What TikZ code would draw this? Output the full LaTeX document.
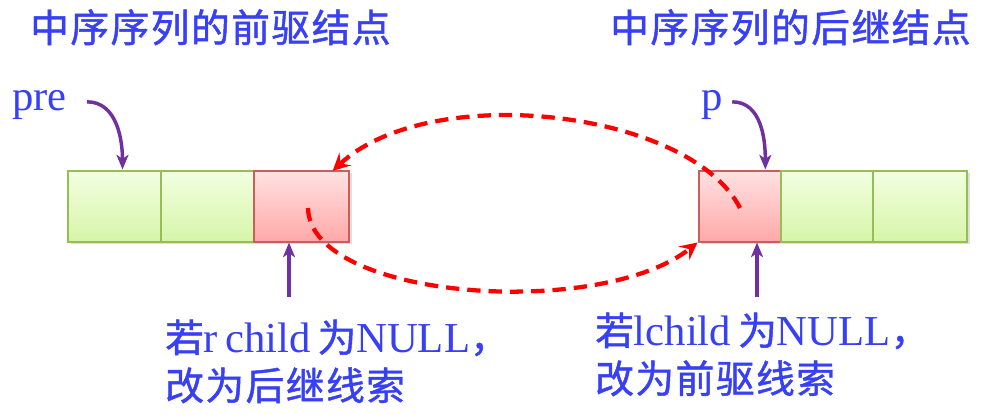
\documentclass[tikz,border=0pt]{standalone}
\usepackage{fontspec}
\setmainfont{Liberation Serif}
\newfontfamily\cjk[FakeBold=1.2,LetterSpace=4]{Noto Sans CJK SC}
\usetikzlibrary{arrows.meta,shadows}
\definecolor{txtblue}{RGB}{56,64,245}
\definecolor{arrpurple}{RGB}{112,48,160}
\definecolor{dashred}{RGB}{255,0,0}
\definecolor{gtop}{RGB}{242,255,225}
\definecolor{gbot}{RGB}{214,245,168}
\definecolor{gedge}{RGB}{150,190,85}
\definecolor{ptop}{RGB}{255,226,226}
\definecolor{pbot}{RGB}{255,168,168}
\definecolor{pedge}{RGB}{200,95,95}
\newcommand\zh[1]{{\cjk\fontsize{29}{34}\selectfont #1}}
\tikzset{
  cellbox/.style={draw, line width=1.5pt, minimum height=53.25pt, inner sep=0pt,
    drop shadow={shadow xshift=2pt, shadow yshift=-2pt, opacity=0.25}},
  greencell/.style={cellbox, draw=gedge, top color=gtop, bottom color=gbot},
  pinkcell/.style={cellbox, draw=pedge, top color=ptop, bottom color=pbot},
  titletext/.style={text=txtblue, font=\cjk\fontsize{29}{34}\selectfont, inner sep=0pt, anchor=base west},
  labeltext/.style={text=txtblue, font=\fontsize{32}{36}\selectfont, inner sep=0pt, anchor=base west},
  ptrarrow/.style={draw=arrpurple, line width=2.6pt, -{Stealth[length=11pt,width=9pt,inset=3pt]}},
  threadarrow/.style={draw=dashred, line width=3.2pt, dash pattern=on 10pt off 6pt,
    -{Stealth[length=13pt,width=13pt,inset=5pt]}}
}
\begin{document}
\begin{tikzpicture}[x=0.75pt,y=-0.75pt]
\useasboundingbox (0,0) rectangle (988,414);
% titles
\node[titletext] (t1) at (30,42) {中序序列的前驱结点};
\node[titletext] (t2) at (610,42) {中序序列的后继结点};
% pointer labels
\node[labeltext] (pre) at (12,110) {pre};
\node[labeltext] (p) at (701,110) {p};
% cells
\node[greencell, minimum width=69.75pt] (a1) at (114.5,206) {};
\node[greencell, minimum width=69.75pt] (a2) at (207.5,206) {};
\node[pinkcell, minimum width=71.25pt] (a3) at (301.5,206) {};
\node[pinkcell, minimum width=62.25pt] (b1) at (740,206) {};
\node[greencell, minimum width=69pt] (b2) at (827,206) {};
\node[greencell, minimum width=70.5pt] (b3) at (920,206) {};
% pointer arrows
\draw[ptrarrow] ([xshift=15pt,yshift=2pt]pre.east) to[out=0,in=90] ([xshift=6pt]a1.north);
\draw[ptrarrow] ([xshift=7pt,yshift=2pt]p.east) to[out=0,in=90] ([xshift=19pt]b1.north);
% bottom labels
\node[labeltext] (l1) at (165,352) {\zh{若}r\,child\,\zh{为}NULL\zh{，}};
\node[labeltext] (l2) at (165,400) {\zh{改为后继线索}};
\node[labeltext] (r1) at (595,345) {\zh{若}lchild\,\zh{为}NULL\zh{，}};
\node[labeltext] (r2) at (595,393) {\zh{改为前驱线索}};
\coordinate (ua) at (289,297);
\coordinate (ub) at (757,297);
\draw[ptrarrow] (ua) -- (ua |- a3.south);
\draw[ptrarrow] (ub) -- (ub |- b1.south);
% thread arrows
\coordinate (s1) at (740,208);
\coordinate (s2) at (308,208);
\draw[threadarrow] (s1) .. controls (690,110) and (430,80) .. ([xshift=-13pt,yshift=-1pt]a3.north east);
\draw[threadarrow] (s2) .. controls (310,300) and (600,320) .. (b1.south west);
\end{tikzpicture}
\end{document}
